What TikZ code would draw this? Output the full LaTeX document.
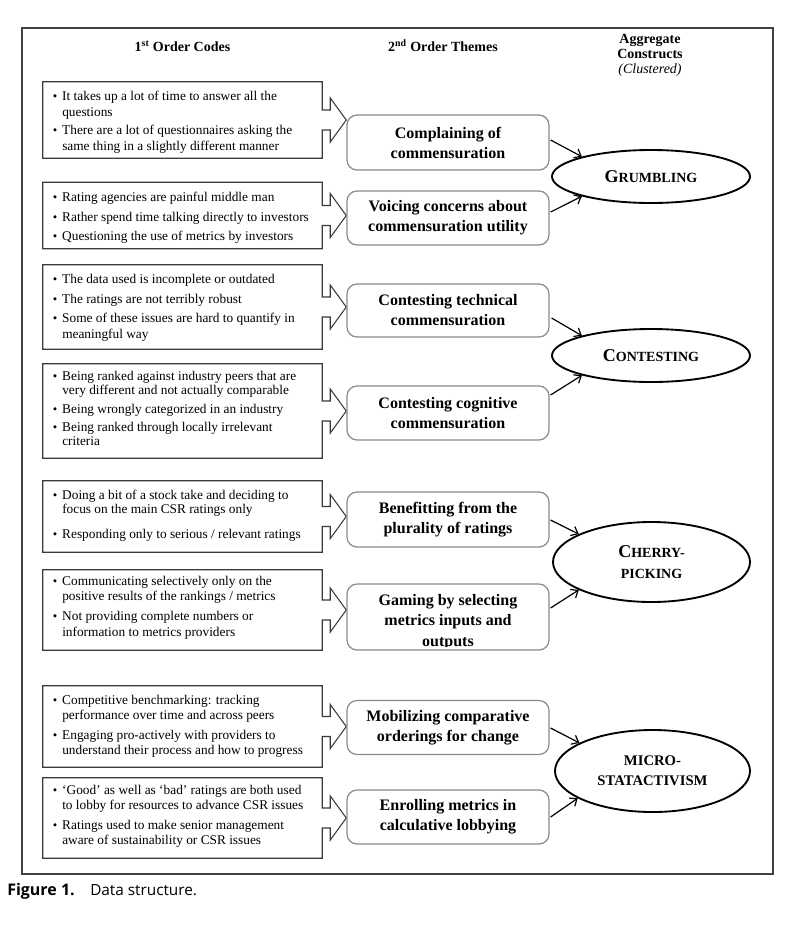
\documentclass[tikz,border=0pt]{standalone}
\usepackage{fontspec}
\setmainfont{Liberation Serif}
\newfontfamily\capfont{Open Sans}
\usetikzlibrary{calc,arrows.meta,shapes.geometric}
\definecolor{framegray}{HTML}{404040}
\definecolor{boxgray}{HTML}{3A3A3A}
\definecolor{midgray}{HTML}{8A8A8A}
\newcommand\bul{\makebox[7.1pt][l]{\fontsize{9.5}{9.5}\selectfont\textbullet}}
\newcommand\capinit[1]{{\fontsize{13.5}{15.75}\selectfont #1}}
\newcommand\callout[1]{\draw[codeoutline] (#1.north west) -- (#1.north east) -- ($(#1.east)+(0,-10)$) -- ++(8,0) -- ++(0,-12) -- ($(#1.east)+(24,0)$) -- ($(#1.east)+(8,22)$) -- ++(0,-12) -- ++(-8,0) -- (#1.south east) -- (#1.south west) -- cycle;}
\tikzset{
  codebox/.style={rectangle, draw=none, inner sep=0pt, minimum width=209.25pt},
  codeoutline/.style={draw=boxgray, line width=0.8pt, line join=miter},
  txtline/.style={anchor=base west, inner sep=0pt, font=\fontsize{10}{12}\selectfont},
  midbox/.style={rectangle, draw=midgray, line width=0.9pt, rounded corners=7.5pt, fill=white,
    minimum width=151.5pt, inner sep=0pt, align=center, font=\fontsize{12}{15}\selectfont\bfseries},
  construct/.style={ellipse, draw, line width=1.4pt, inner sep=0pt, align=center,
    font=\fontsize{10.5}{15.75}\selectfont\bfseries},
  hdr/.style={inner sep=0pt, align=center, font=\fontsize{10.5}{11.25}\selectfont\bfseries},
  conn/.style={-{Straight Barb[length=4.5pt,width=7.5pt]}, line width=0.9pt},
}
\begin{document}
\begin{tikzpicture}[x=0.75pt,y=-0.75pt]
\useasboundingbox (0,0) rectangle (787,926);
\fill[white] (0,0) rectangle (787,926);
\draw[framegray, line width=0.9pt] (22,28) rectangle (773,874);

% headers
\node[hdr] (h1) at (182.5,46) {1\textsuperscript{st} Order Codes};
\node[hdr] (h2) at (443,46) {2\textsuperscript{nd} Order Themes};
\node[hdr] (h3) at (650,55) {Aggregate\\Constructs\\{\mdseries\itshape (Clustered)}};

% left boxes
\node[codebox, minimum height=57pt]    (L1) at (182.5,120) {};
\node[codebox, minimum height=49.5pt]  (L2) at (182.5,215.5) {};
\node[codebox, minimum height=63pt]    (L3) at (182.5,307) {};
\node[codebox, minimum height=70.5pt]  (L4) at (182.5,411) {};
\node[codebox, minimum height=53.25pt] (L5) at (182.5,516.5) {};
\node[codebox, minimum height=60pt]    (L6) at (182.5,610) {};
\node[codebox, minimum height=60.75pt] (L7) at (182.5,726.5) {};
\node[codebox, minimum height=60pt]    (L8) at (182.5,818) {};
\callout{L1}\callout{L2}\callout{L3}\callout{L4}
\callout{L5}\callout{L6}\callout{L7}\callout{L8}

% left texts
\node[txtline] (t1a) at (52.5,100.5) {\bul It takes up a lot of time to answer all the};
\node[txtline] (t1b) at (62,116) {questions};
\node[txtline] (t1c) at (52.5,134.5) {\bul There are a lot of questionnaires asking the};
\node[txtline] (t1d) at (62,150.5) {same thing in a slightly different manner};

\node[txtline] (t2a) at (52.5,201.5) {\bul Rating agencies are painful middle man};
\node[txtline] (t2b) at (52.5,221) {\bul Rather spend time talking directly to investors};
\node[txtline] (t2c) at (52.5,240.5) {\bul Questioning the use of metrics by investors};

\node[txtline] (t3a) at (52.5,283.5) {\bul The data used is incomplete or outdated};
\node[txtline] (t3b) at (52.5,303.5) {\bul The ratings are not terribly robust};
\node[txtline] (t3c) at (52.5,322.5) {\bul Some of these issues are hard to quantify in};
\node[txtline] (t3d) at (62,338.5) {meaningful way};

\node[txtline] (t4a) at (52.5,380.5) {\bul Being ranked against industry peers that are};
\node[txtline] (t4b) at (62,394.5) {very different and not actually comparable};
\node[txtline] (t4c) at (52.5,413.5) {\bul Being wrongly categorized in an industry};
\node[txtline] (t4d) at (52.5,431.5) {\bul Being ranked through locally irrelevant};
\node[txtline] (t4e) at (62,445.5) {criteria};

\node[txtline] (t5a) at (52.5,499.5) {\bul Doing a bit of a stock take and deciding to};
\node[txtline] (t5b) at (62,513.5) {focus on the main CSR ratings only};
\node[txtline] (t5c) at (52.5,538.5) {\bul Responding only to serious / relevant ratings};

\node[txtline] (t6a) at (52.5,585.5) {\bul Communicating selectively only on the};
\node[txtline] (t6b) at (62,600.5) {positive results of the rankings / metrics};
\node[txtline] (t6c) at (52.5,620.5) {\bul Not providing complete numbers or};
\node[txtline] (t6d) at (62,636.5) {information to metrics providers};

\node[txtline] (t7a) at (52.5,704.5) {\bul Competitive benchmarking: tracking};
\node[txtline] (t7b) at (62,719.5) {performance over time and across peers};
\node[txtline] (t7c) at (52.5,739.5) {\bul Engaging pro-actively with providers to};
\node[txtline] (t7d) at (62,754.5) {understand their process and how to progress};

\node[txtline] (t8a) at (52.5,794.5) {\bul ‘Good’ as well as ‘bad’ ratings are both used};
\node[txtline] (t8b) at (62,809.5) {to lobby for resources to advance CSR issues};
\node[txtline] (t8c) at (52.5,829.5) {\bul Ratings used to make senior management};
\node[txtline] (t8d) at (62,844.5) {aware of sustainability or CSR issues};

% middle boxes
\node[midbox, minimum height=41.25pt] (M1) at (448,142.5) {Complaining of\\commensuration};
\node[midbox, minimum height=40.5pt]  (M2) at (448,218) {Voicing concerns about\\commensuration utility};
\node[midbox, minimum height=39.75pt] (M3) at (448,310.5) {Contesting technical\\commensuration};
\node[midbox, minimum height=40.5pt]  (M4) at (448,413) {Contesting cognitive\\commensuration};
\node[midbox, minimum height=41.25pt] (M5) at (448,519.5) {Benefitting from the\\plurality of ratings};
\node[midbox, minimum height=49.5pt]  (M6) at (448,617) {};
\begin{scope}
\clip (347,585) rectangle (549,646);
\node[inner sep=0pt, align=center, font=\fontsize{12}{15.5}\selectfont\bfseries, anchor=base] (M6t) at (448,646.5) {Gaming by selecting\\metrics inputs and\\outputs};
\end{scope}
\node[midbox, minimum height=40.5pt]  (M7) at (448,727.5) {Mobilizing comparative\\orderings for change};
\node[midbox, minimum height=40.5pt]  (M8) at (448,817) {Enrolling metrics in\\calculative lobbying};

% constructs
\node[construct, minimum width=148.5pt, minimum height=39.75pt] (E1) at (651,176.5) {\capinit{G}RUMBLING};
\node[construct, minimum width=148.5pt, minimum height=39.75pt] (E2) at (651,355.5) {\capinit{C}ONTESTING};
\node[construct, minimum width=147.75pt, minimum height=60pt] (E3) at (651.5,562) {\capinit{C}HERRY-\\PICKING};
\node[construct, minimum width=146.25pt, minimum height=61.5pt, font=\fontsize{11}{15}\selectfont\bfseries] (E4) at (652.5,771) {MICRO-\\STATACTIVISM};

% connectors
\draw[conn] ($(M1.east)+(1,-2.5)$) -- (E1.164);
\draw[conn] ($(M2.east)+(1,-6)$) -- (E1.196);
\draw[conn] ($(M3.east)+(2,7.5)$) -- (E2.164);
\draw[conn] ($(M4.east)+(1,-18)$) -- (E2.196);
\draw[conn] ($(M5.east)+(1,0.5)$) -- (E3.159);
\draw[conn] ($(M6.east)+(1,-9)$) -- (E3.201);
\draw[conn] ($(M7.east)+(1,0.5)$) -- (E4.159);
\draw[conn] ($(M8.east)+(1,0)$) -- (E4.200);

% caption
\node[anchor=base west, inner sep=0pt, font=\capfont\fontsize{12}{13}\selectfont\bfseries] (cap1) at (7,895) {Figure 1.};
\node[anchor=base west, inner sep=0pt, font=\capfont\fontsize{11.5}{13}\selectfont] (cap2) at (90,895) {Data structure.};
\end{tikzpicture}
\end{document}
